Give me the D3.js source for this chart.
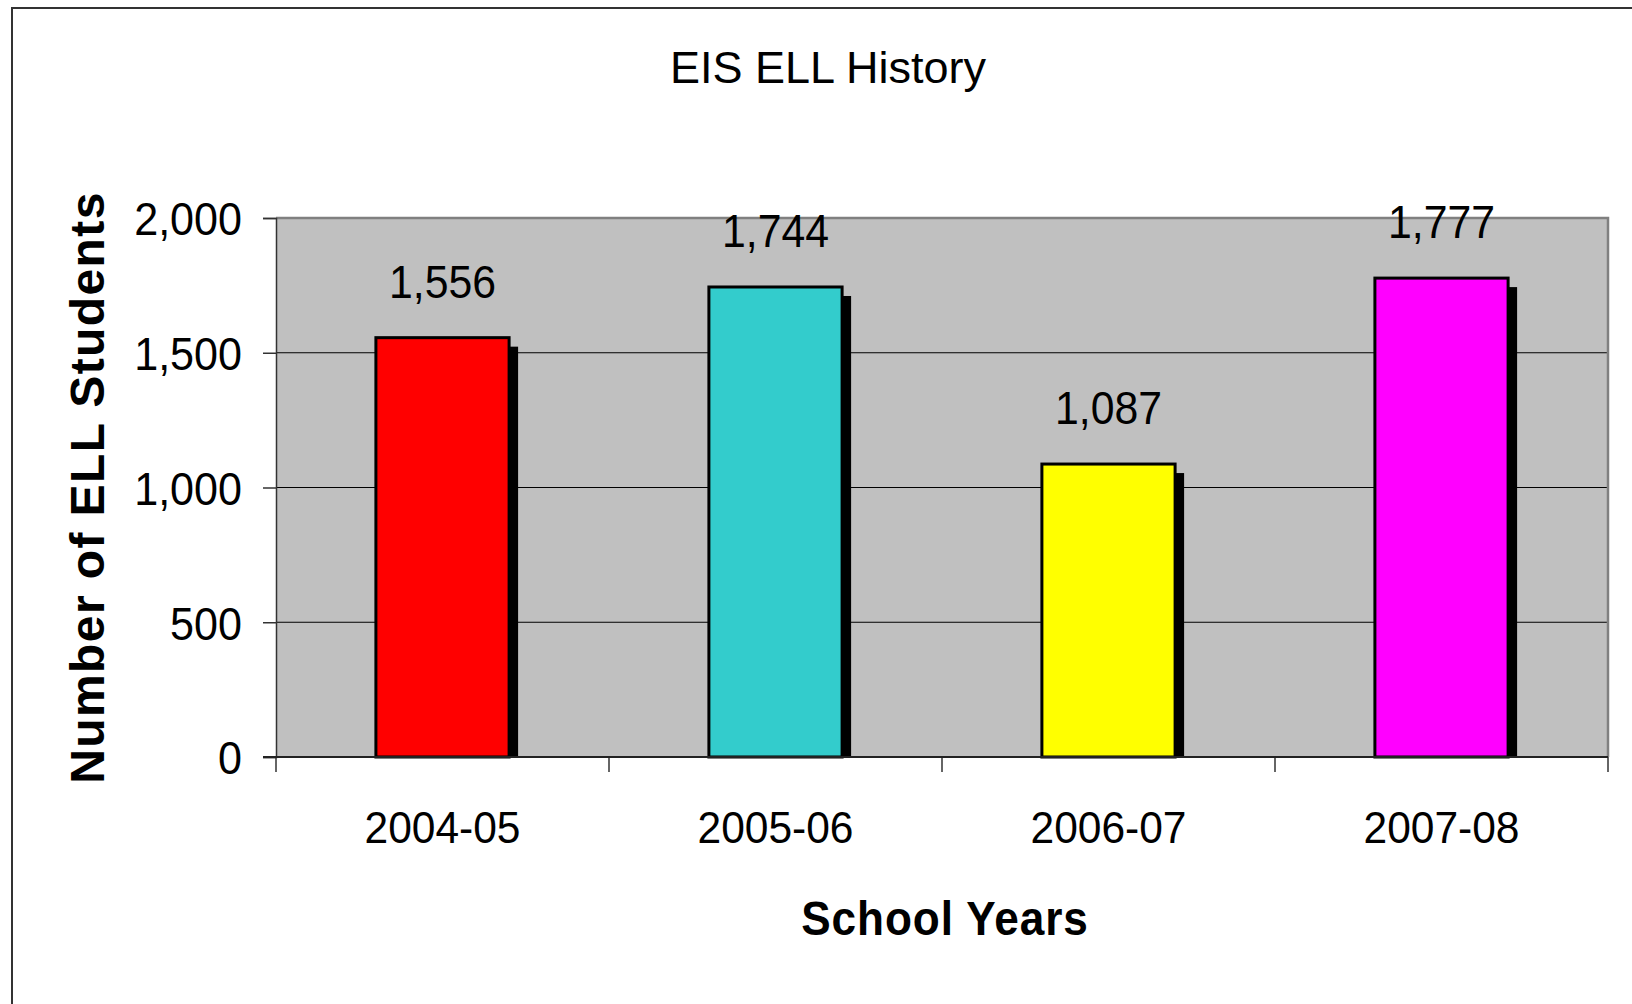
<!DOCTYPE html>
<html>
<head>
<meta charset="utf-8">
<script src="https://cdn.jsdelivr.net/npm/d3@7"></script>
<style>
  body { margin: 0; background: #fff; }
  text { font-family: "Liberation Sans", Arial, sans-serif; fill: #000; }
</style>
</head>
<body>
<div id="chart-area"></div>
<script>
// chart data
var years = ["2004-05", "2005-06", "2006-07", "2007-08"];
var students = [1556, 1744, 1087, 1777];
var barColors = ["#ff0000", "#33cccc", "#ffff00", "#ff00ff"];
var yTicks = [0, 500, 1000, 1500, 2000];

var W = 1632, H = 1004;
var plot = { left: 276, right: 1608, top: 218, bottom: 757 };

var svg = d3.select("#chart-area")
    .append("svg")
        .attr("width", W)
        .attr("height", H);

// outer chart frame (runs off the right and bottom edges)
svg.append("rect")
    .attr("x", 12)
    .attr("y", 8)
    .attr("width", W)
    .attr("height", H)
    .attr("fill", "#fff")
    .attr("stroke", "#333")
    .attr("stroke-width", 2);

// scales
var x = d3.scaleBand()
    .domain(years)
    .range([plot.left, plot.right])
    .paddingInner(0.6)
    .paddingOuter(0.3);

var xCat = d3.scaleBand()
    .domain(years)
    .range([plot.left, plot.right])
    .padding(0);

var y = d3.scaleLinear()
    .domain([0, 2000])
    .range([plot.bottom, plot.top]);

// plot background
svg.append("rect")
    .attr("x", plot.left)
    .attr("y", plot.top)
    .attr("width", plot.right - plot.left)
    .attr("height", plot.bottom - plot.top)
    .attr("fill", "#c0c0c0");

// gridlines
svg.append("g")
    .selectAll("line")
    .data(yTicks.filter(function(d){ return d > 0 && d < 2000; }))
    .enter().append("line")
        .attr("x1", plot.left)
        .attr("x2", plot.right)
        .attr("y1", function(d){ return y(d); })
        .attr("y2", function(d){ return y(d); })
        .attr("stroke", "#000")
        .attr("stroke-width", 1);

// gray frame on top and right
svg.append("path")
    .attr("d", "M" + plot.left + "," + plot.top + "H" + plot.right + "V" + plot.bottom)
    .attr("fill", "none")
    .attr("stroke", "#808080")
    .attr("stroke-width", 2.5);

// shadows
var shift = 9;
svg.append("g")
    .selectAll("rect")
    .data(years)
    .enter().append("rect")
        .attr("x", function(d){ return x(d) + shift; })
        .attr("y", function(d, i){ return y(students[i]) + shift; })
        .attr("width", x.bandwidth())
        .attr("height", function(d, i){ return y(0) - y(students[i]) - shift; })
        .attr("fill", "#000");

// bars
svg.append("g")
    .selectAll("rect")
    .data(years)
    .enter().append("rect")
        .attr("x", function(d){ return x(d); })
        .attr("y", function(d, i){ return y(students[i]); })
        .attr("width", x.bandwidth())
        .attr("height", function(d, i){ return y(0) - y(students[i]); })
        .attr("fill", function(d, i){ return barColors[i]; })
        .attr("stroke", "#000")
        .attr("stroke-width", 3);

// value labels
svg.append("g")
    .selectAll("text")
    .data(years)
    .enter().append("text")
        .attr("transform", function(d, i){
            return "translate(" + (x(d) + x.bandwidth() / 2) + "," + (y(students[i]) - 40) + ") scale(0.91,1)";
        })
        .attr("text-anchor", "middle")
        .attr("font-size", "47px")
        .text(function(d, i){ return d3.format(",")(students[i]); });

// y axis
var ySqueeze = 0.917;
var yAxisCall = d3.axisLeft(y)
    .tickValues(yTicks)
    .tickSize(13)
    .tickPadding(0)
    .tickFormat(d3.format(","));

var yAxisGroup = svg.append("g")
    .attr("transform", "translate(" + plot.left + ",0)")
    .call(yAxisCall);
yAxisGroup.select(".domain").attr("stroke", "#333").attr("stroke-width", 1.5);
yAxisGroup.selectAll(".tick line").attr("stroke", "#333").attr("stroke-width", 1.5);
yAxisGroup.selectAll(".tick text")
    .attr("x", -34 / ySqueeze)
    .attr("dy", "0.36em")
    .attr("transform", "scale(" + ySqueeze + ",1)")
    .attr("font-family", "Liberation Sans, Arial, sans-serif")
    .attr("font-size", "47px")
    .attr("fill", "#000");

// x axis: category labels
var xAxisCall = d3.axisBottom(xCat)
    .tickSize(0)
    .tickPadding(0);

var xAxisGroup = svg.append("g")
    .attr("transform", "translate(0," + plot.bottom + ")")
    .call(xAxisCall);
xAxisGroup.select(".domain").remove();
xAxisGroup.selectAll(".tick text")
    .attr("y", 86)
    .attr("dy", 0)
    .attr("transform", "scale(0.945,1)")
    .attr("font-family", "Liberation Sans, Arial, sans-serif")
    .attr("font-size", "45px")
    .attr("fill", "#000");

// x tick marks sit between the categories
svg.append("g")
    .selectAll("line")
    .data(d3.range(years.length + 1))
    .enter().append("line")
        .attr("x1", function(i){ return plot.left + i * xCat.step(); })
        .attr("x2", function(i){ return plot.left + i * xCat.step(); })
        .attr("y1", plot.bottom)
        .attr("y2", plot.bottom + 15)
        .attr("stroke", "#333")
        .attr("stroke-width", 1.5);

// x axis line
svg.append("line")
    .attr("x1", plot.left - 13)
    .attr("x2", plot.right)
    .attr("y1", plot.bottom)
    .attr("y2", plot.bottom)
    .attr("stroke", "#222")
    .attr("stroke-width", 2);

// title
svg.append("text")
    .attr("x", 828)
    .attr("y", 83)
    .attr("text-anchor", "middle")
    .attr("font-size", "45px")
    .text("EIS ELL History");

// x label
svg.append("text")
    .attr("transform", "translate(945,935) scale(0.92,1)")
    .attr("text-anchor", "middle")
    .attr("font-size", "48px")
    .attr("font-weight", "bold")
    .attr("letter-spacing", "1px")
    .text("School Years");

// y label
svg.append("text")
    .attr("transform", "translate(104," + ((plot.top + plot.bottom) / 2) + ") rotate(-90)")
    .attr("text-anchor", "middle")
    .attr("font-size", "48px")
    .attr("font-weight", "bold")
    .attr("letter-spacing", "1.4px")
    .text("Number of ELL Students");
</script>
</body>
</html>
